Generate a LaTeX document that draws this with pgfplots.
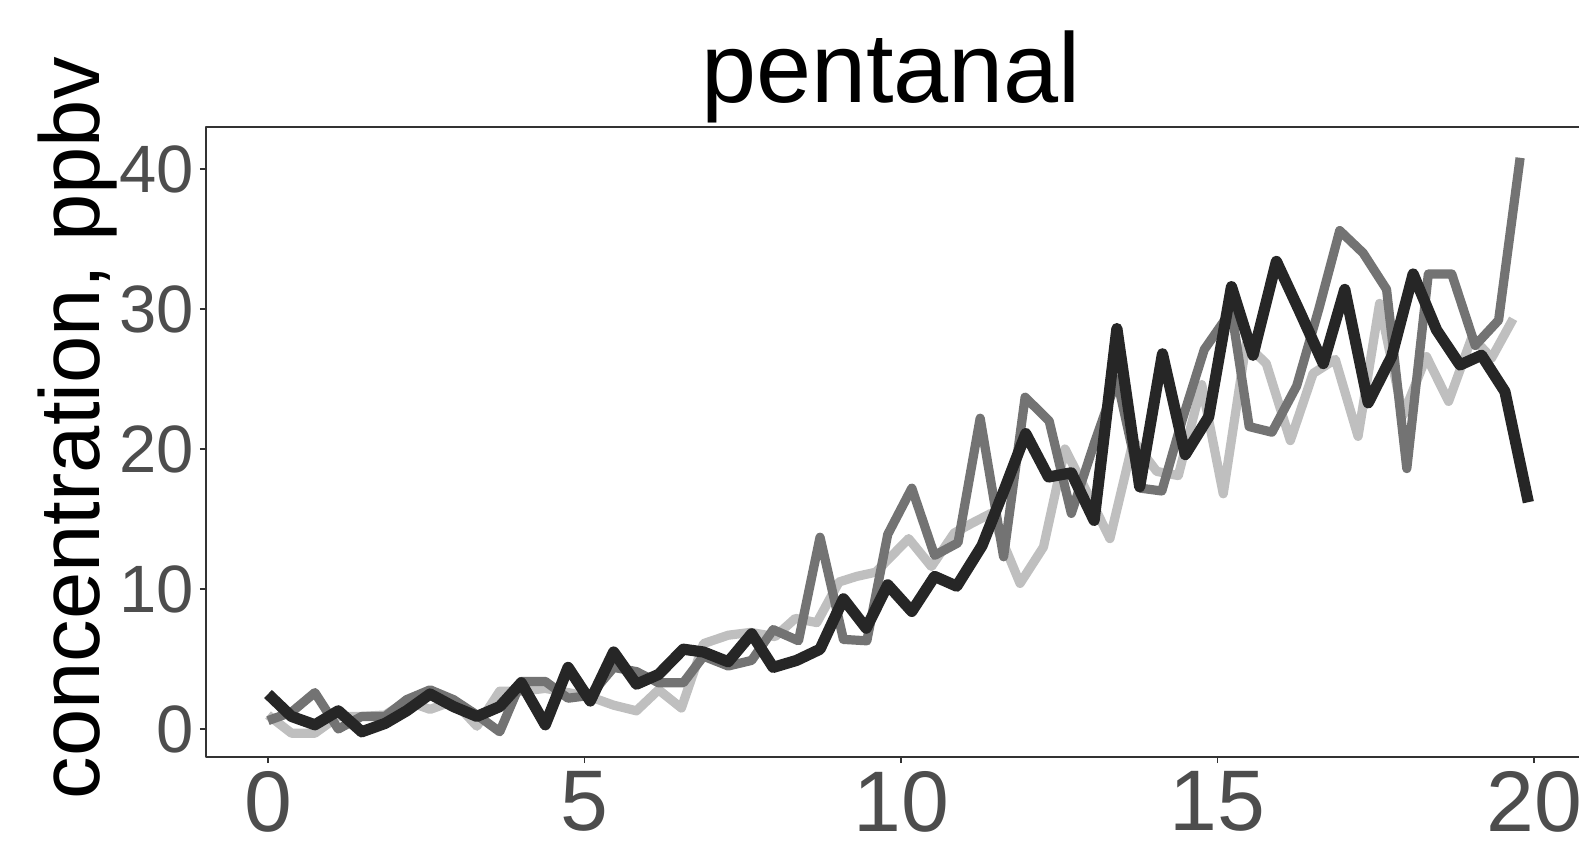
\documentclass[border=0pt]{standalone}
\usepackage{fontspec}
\setmainfont{Liberation Sans}
\usepackage{pgfplots}
\pgfplotsset{compat=1.18}
\definecolor{cLight}{HTML}{BFBFBF}
\definecolor{cMid}{HTML}{737373}
\definecolor{cDark}{HTML}{262626}
\definecolor{cTick}{HTML}{4D4D4D}
\definecolor{cAxis}{HTML}{333333}
\begin{document}
\begin{tikzpicture}
\begin{axis}[
  at={(103pt,45pt)}, anchor=south west,
  scale only axis, width=692.5pt, height=315pt,
  xmin=-0.98, xmax=20.9, ymin=-2, ymax=43,
  xtick={0,5,10,15,20}, ytick={0,10,20,30,40},
  xtick pos=bottom, ytick pos=left,
  tick align=outside, major tick length=3pt,
  axis line style={cAxis, line width=0.75pt},
  every tick/.style={cAxis, line width=0.75pt},
  /pgf/number format/assume math mode=true,
  xticklabel style={font=\fontsize{43}{48}\selectfont, text=cTick, inner sep=0pt, anchor=north},
  yticklabel style={font=\fontsize{33.5}{40}\selectfont, text=cTick, inner sep=0pt, anchor=east},
  xticklabel shift=4pt, yticklabel shift=3pt,
  title={pentanal},
  title style={font=\fontsize{49.5}{56}\selectfont, at={(axis description cs:0.4946,1.0206)}, anchor=base, inner sep=0pt},
  ylabel={concentration, ppbv},
  ylabel style={font=\fontsize{42.5}{48}\selectfont, at={(axis description cs:-0.077,0.522)}, anchor=base, inner sep=0pt},
  line join=round, line cap=butt,
]
\addplot[cLight, line width=4.6pt] coordinates {
(0.00,1.0) (0.37,-0.3) (0.74,-0.3) (1.11,0.9) (1.48,0.9) (1.85,1.0) (2.19,2.0) (2.56,1.4) (2.93,2.0) (3.30,0.2)
(3.66,2.7) (4.00,2.7) (4.38,2.9) (4.74,2.6) (5.09,2.3) (5.46,1.7) (5.82,1.3) (6.17,2.8) (6.53,1.5) (6.88,6.1)
(7.27,6.7) (7.62,6.9) (8.01,6.6) (8.33,7.9) (8.67,7.6) (9.02,10.5) (9.30,10.9) (9.60,11.2) (10.12,13.6) (10.48,11.6)
(10.84,14.0) (11.12,14.7) (11.42,15.4) (11.88,10.4) (12.25,13.0) (12.59,20.0) (12.95,16.8) (13.30,13.6) (13.67,20.6) (14.04,18.4)
(14.38,18.1) (14.75,24.6) (15.09,16.8) (15.45,27.5) (15.77,26.1) (16.15,20.6) (16.51,25.4) (16.86,26.4) (17.22,20.9) (17.56,30.4)
(17.93,22.4) (18.30,26.6) (18.65,23.4) (19.02,28.0) (19.33,26.5) (19.67,29.3)
};
\addplot[cMid, line width=4.6pt] coordinates {
(0.00,0.6) (0.37,1.2) (0.74,2.6) (1.11,0.0) (1.48,0.9) (1.85,0.9) (2.19,2.1) (2.56,2.8) (2.93,2.1) (3.30,1.0)
(3.66,-0.2) (4.00,3.4) (4.38,3.4) (4.74,2.2) (5.09,2.4) (5.46,4.4) (5.82,4.1) (6.17,3.3) (6.56,3.3) (6.88,5.2)
(7.27,4.5) (7.64,4.9) (7.98,7.1) (8.38,6.3) (8.72,13.7) (9.09,6.4) (9.46,6.3) (9.79,13.9) (10.17,17.2) (10.53,12.4)
(10.90,13.3) (11.25,22.2) (11.62,12.3) (11.96,23.7) (12.34,22.0) (12.69,15.4) (13.06,20.5) (13.41,25.0) (13.79,17.2) (14.12,17.0)
(14.45,22.2) (14.79,27.1) (15.22,29.9) (15.50,21.6) (15.86,21.2) (16.25,24.5) (16.60,30.0) (16.93,35.6) (17.30,34.0) (17.67,31.4)
(17.99,18.6) (18.33,32.5) (18.70,32.5) (19.07,27.4) (19.44,29.2) (19.78,40.8)
};
\addplot[cDark, line width=5.6pt] coordinates {
(0.00,2.5) (0.37,0.9) (0.74,0.3) (1.11,1.3) (1.48,-0.2) (1.85,0.4) (2.19,1.3) (2.56,2.5) (2.93,1.6) (3.30,0.9)
(3.66,1.6) (4.00,3.3) (4.38,0.3) (4.74,4.4) (5.09,2.0) (5.46,5.5) (5.82,3.2) (6.17,3.9) (6.56,5.7) (6.88,5.5)
(7.27,4.8) (7.64,6.8) (7.98,4.4) (8.35,4.9) (8.72,5.7) (9.09,9.3) (9.45,7.2) (9.79,10.3) (10.17,8.4) (10.53,10.9)
(10.88,10.2) (11.28,13.1) (11.64,17.2) (11.97,21.1) (12.33,18.0) (12.69,18.3) (13.05,14.9) (13.41,28.6) (13.77,17.3) (14.13,26.8)
(14.49,19.6) (14.86,22.3) (15.22,31.6) (15.56,26.7) (15.93,33.4) (16.30,29.8) (16.67,26.1) (17.01,31.4) (17.38,23.3) (17.75,26.6)
(18.09,32.5) (18.46,28.5) (18.83,26.0) (19.17,26.7) (19.54,24.1) (19.91,16.2)
};
\end{axis}
\pgfresetboundingbox
\useasboundingbox (0,0) rectangle (789.5pt,423.5pt);
\end{tikzpicture}
\end{document}
